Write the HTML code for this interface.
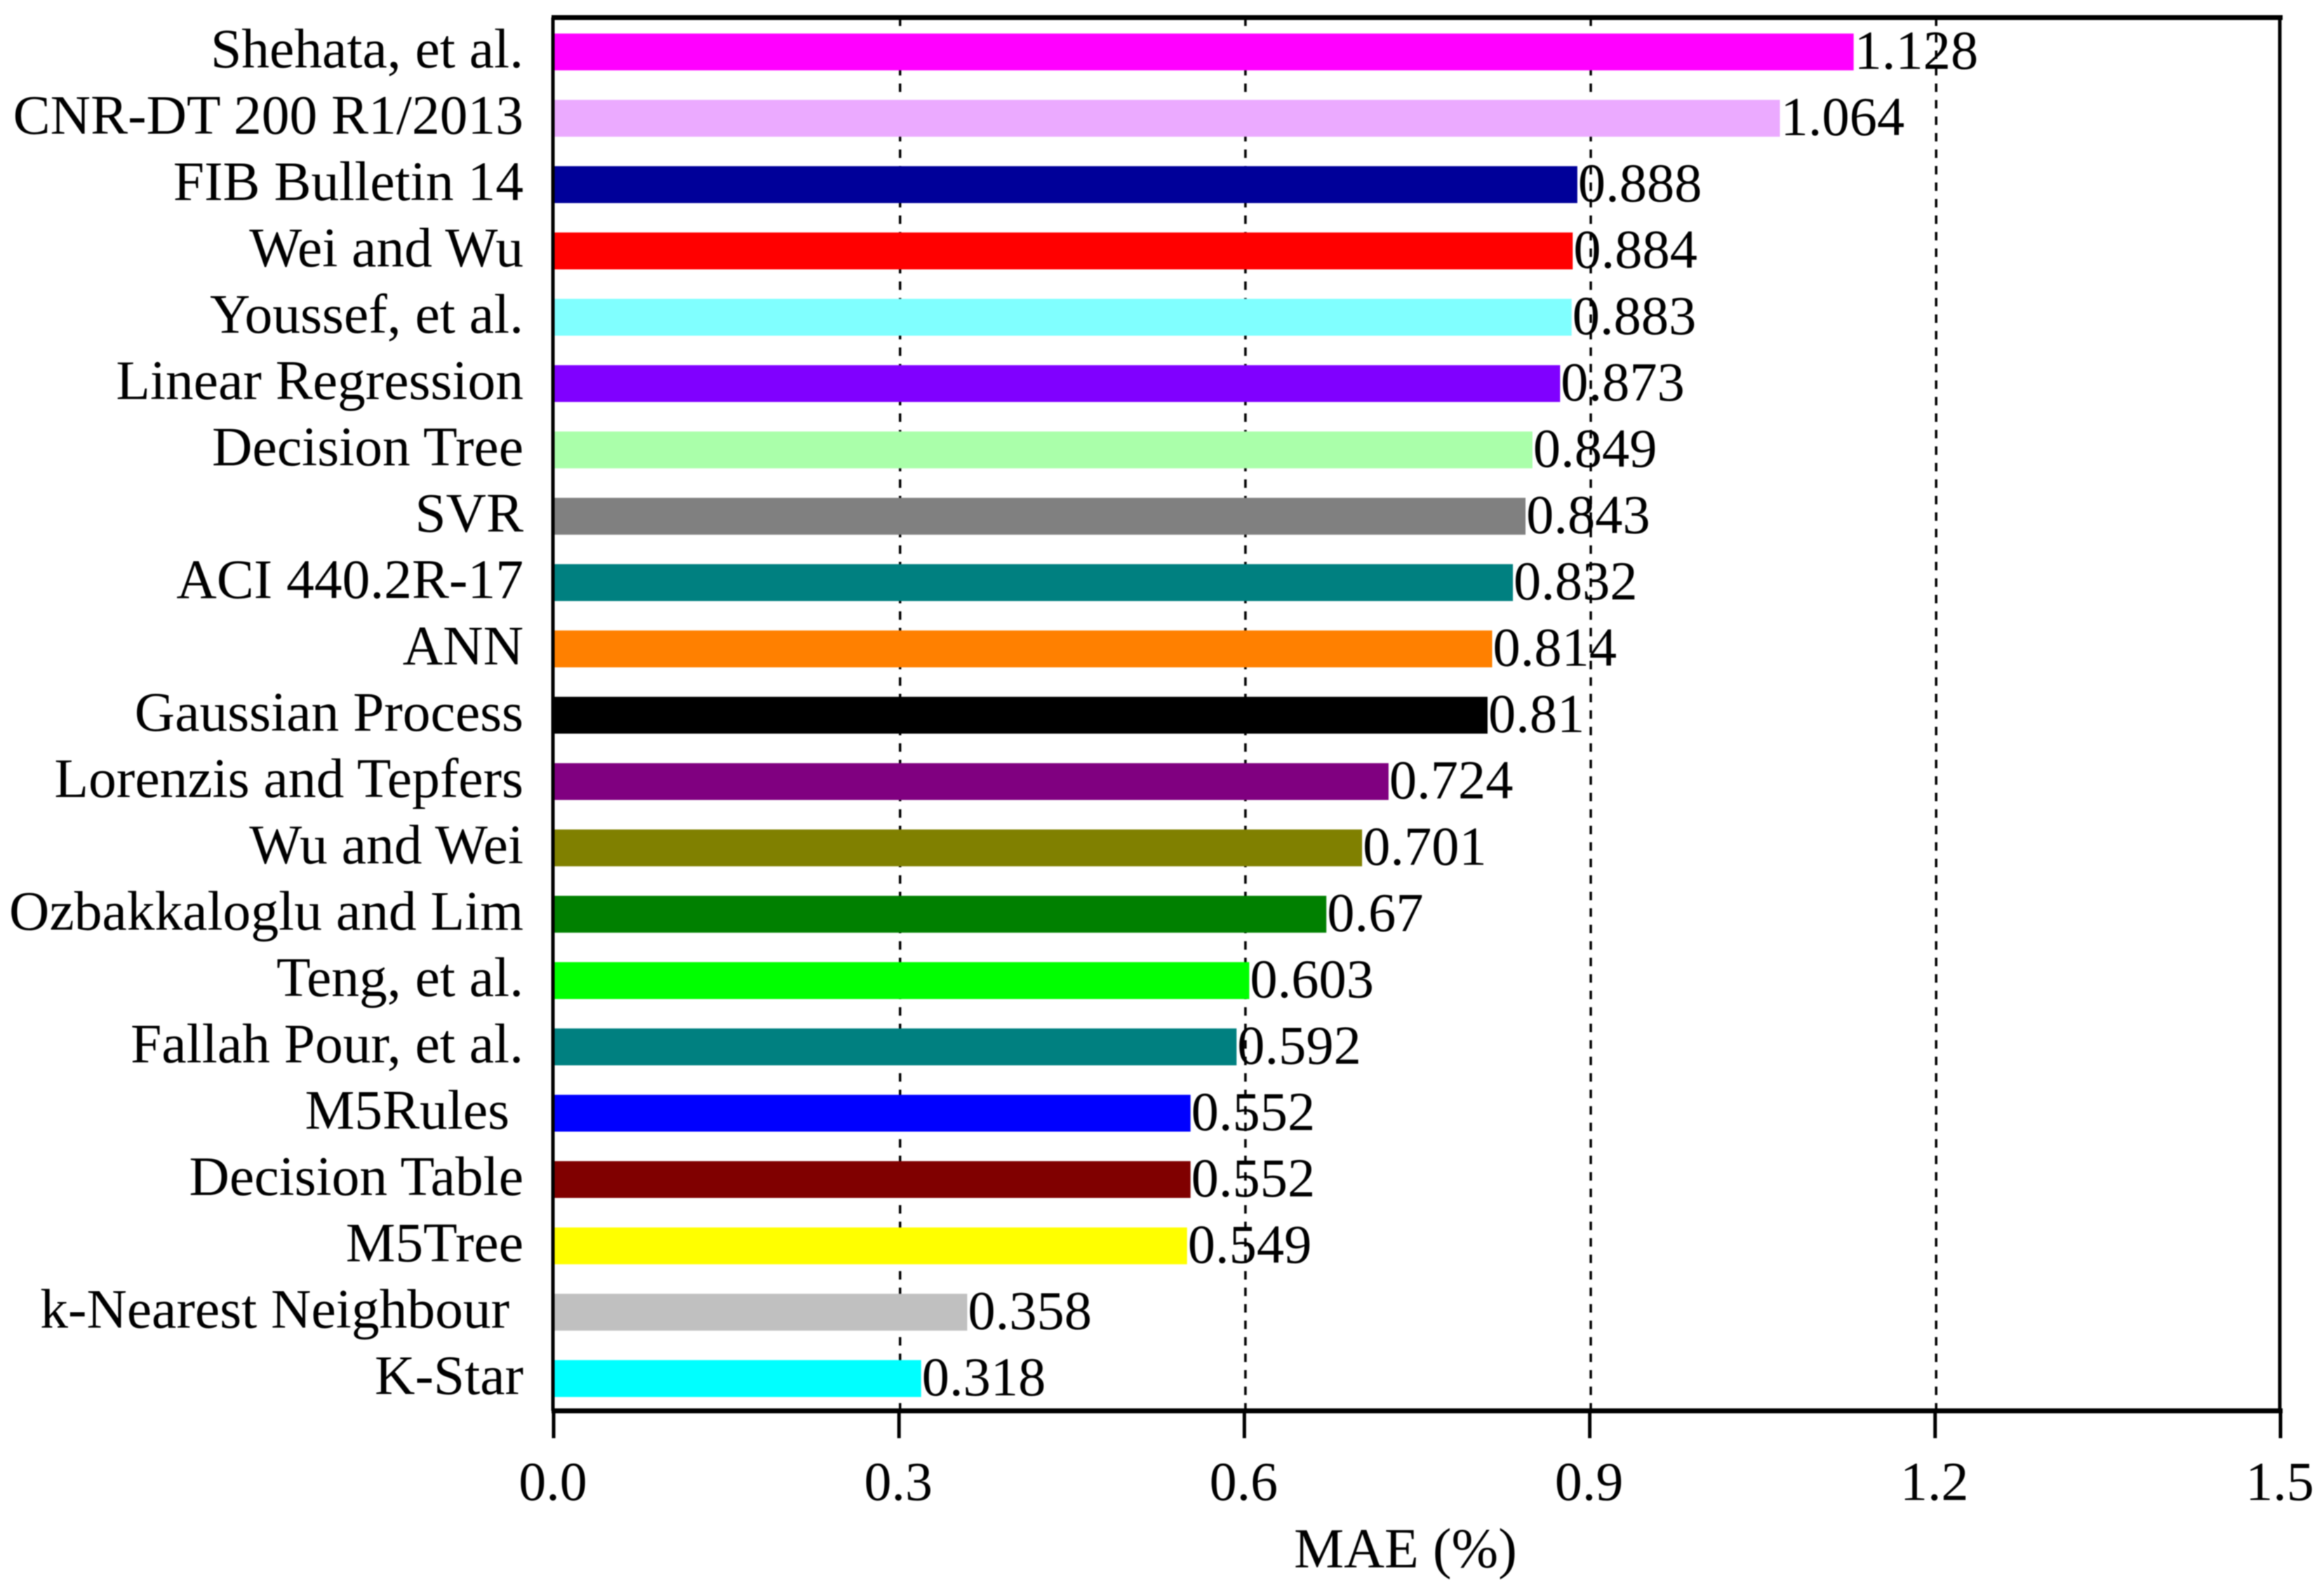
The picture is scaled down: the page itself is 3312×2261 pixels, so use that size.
<!DOCTYPE html>
<html lang="en">
<head>
<meta charset="utf-8">
<title>MAE comparison chart</title>
<style>
html, body { margin: 0; padding: 0; background: #fff; width: 3312px; height: 2261px; overflow: hidden; }
svg { display: block; filter: blur(0.8px); }
text { font-family: "Liberation Serif", "Times New Roman", serif; fill: #000; font-size: 78px; white-space: pre; }
.cat { font-size: 79.5px; }
.val { font-size: 78.5px; }
.title { font-size: 80px; }
</style>
</head>
<body>
<svg id="chart" xmlns="http://www.w3.org/2000/svg" width="3312" height="2261" viewBox="0 0 3312 2261">
  <rect x="0" y="0" width="3312" height="2261" fill="#ffffff"></rect>
  <g id="grid"></g>
  <g id="bars"></g>
  <g id="axes"></g>
  <g id="cat-labels"></g>
  <g id="val-labels"></g>
  <g id="tick-labels"></g>
  <text class="title" x="2003" y="2233" text-anchor="middle">MAE (%)</text>
</svg>
<script>
const categories = ["Shehata, et al.", "CNR-DT 200 R1/2013", "FIB Bulletin 14", "Wei and Wu", "Youssef, et al.", "Linear Regression", "Decision Tree", "SVR", "ACI 440.2R-17", "ANN", "Gaussian Process", "Lorenzis and Tepfers", "Wu and Wei", "Ozbakkaloglu and Lim", "Teng, et al.", "Fallah Pour, et al.", "M5Rules ", "Decision Table", "M5Tree", "k-Nearest Neighbour ", "K-Star"];
const maeValues = [1.128, 1.064, 0.888, 0.884, 0.883, 0.873, 0.849, 0.843, 0.832, 0.814, 0.81, 0.724, 0.701, 0.67, 0.603, 0.592, 0.552, 0.552, 0.549, 0.358, 0.318];
const barColors = ["#ff00ff", "#ebaaff", "#000099", "#ff0000", "#80ffff", "#8000ff", "#aaffaa", "#808080", "#008080", "#ff8000", "#000000", "#800080", "#808000", "#008000", "#00ff00", "#008080", "#0000ff", "#800000", "#ffff00", "#c0c0c0", "#00ffff"];
const xTicks = [0, 0.3, 0.6, 0.9, 1.2, 1.5];

const NS = "http://www.w3.org/2000/svg";
const plotLeft = 789, plotRight = 3250, plotTop = 25, plotBottom = 2010;
const bandTop = 26.75, bandStep = 94.5, barHeight = 52.5;
const xDomainMax = 1.5;
const barOvershoot = 2;

function xScale(v) { return plotLeft + (v / xDomainMax) * (plotRight - plotLeft); }
function bandCenter(i) { return bandTop + bandStep * (i + 0.5); }

function make(tag, attrs, parent) {
  const el = document.createElementNS(NS, tag);
  for (const k in attrs) el.setAttribute(k, attrs[k]);
  parent.appendChild(el);
  return el;
}

const gridG = document.getElementById("grid");
const barsG = document.getElementById("bars");
const axesG = document.getElementById("axes");
const catG = document.getElementById("cat-labels");
const valG = document.getElementById("val-labels");
const tickG = document.getElementById("tick-labels");

xTicks.forEach(function (t) {
  const x = xScale(t);
  if (t > 0 && t < xDomainMax) {
    const g = make("line", { x1: x + 1.5, x2: x + 1.5, y1: plotTop, y2: plotBottom, stroke: "#000", "stroke-width": 3.5, "stroke-dasharray": "12 11.5" }, gridG);
    
    
  }
  const tick = make("line", { x1: x, x2: x, y1: plotBottom, y2: 2049, stroke: "#000", "stroke-width": 5 }, axesG);
  
  
  const lab = make("text", { x: x - 1, y: 2137, "text-anchor": "middle" }, tickG);
  
  
  lab.textContent = t.toFixed(1);
});

categories.forEach(function (name, i) {
  const c = bandCenter(i);
  const v = maeValues[i];
  const bar = make("rect", { x: plotLeft, y: c - barHeight / 2, width: xScale(v) - plotLeft + barOvershoot, height: barHeight, fill: barColors[i] }, barsG);
  
  
  const cat = make("text", { class: "cat", x: 746, y: c + 22, "text-anchor": "end" }, catG);
  
  
  cat.textContent = name;
  const val = make("text", { class: "val", x: xScale(v) + 3, y: c + 24 }, valG);
  
  
  val.textContent = String(v);
});

[
  ["spine-top", plotLeft - 3, plotTop, plotRight + 3, plotTop, 7],
  ["spine-bottom", plotLeft - 3, plotBottom, plotRight + 3, plotBottom, 7],
  ["spine-left", plotLeft - 1, plotTop, plotLeft - 1, plotBottom, 5],
  ["spine-right", plotRight - 1, plotTop, plotRight - 1, plotBottom, 5]
].forEach(function (s) {
  const line = make("line", { x1: s[1], y1: s[2], x2: s[3], y2: s[4], stroke: "#000", "stroke-width": s[5] }, axesG);
  
  
});
</script>
</body>
</html>
